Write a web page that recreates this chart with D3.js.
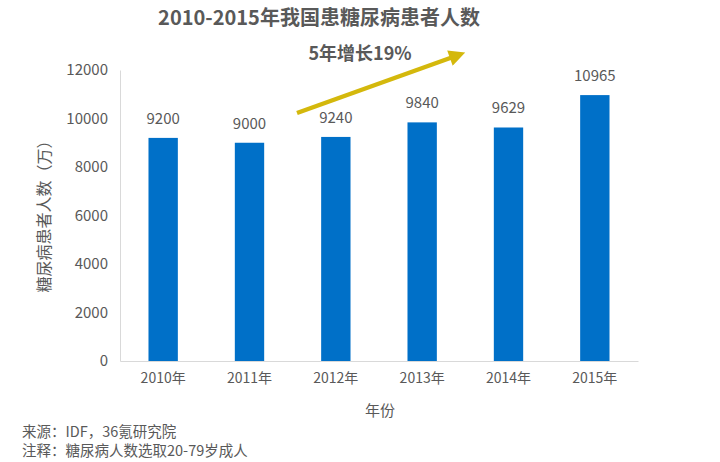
<!DOCTYPE html>
<html>
<head>
<meta charset="utf-8">
<script src="https://cdn.jsdelivr.net/npm/d3@7"></script>
<style>
  body { margin: 0; background: #fff; }
  text { font-family: "Noto Sans CJK SC", "Open Sans", sans-serif; }
</style>
</head>
<body>
<script>
var years = ["2010年", "2011年", "2012年", "2013年", "2014年", "2015年"];
var patients = [9200, 9000, 9240, 9840, 9629, 10965];
var yTicks = [0, 2000, 4000, 6000, 8000, 10000, 12000];

var width = 720, height = 462;
var margin = {top: 70, right: 82, bottom: 101, left: 120};

var svg = d3.select("body").append("svg")
    .attr("width", width)
    .attr("height", height);

// scales
var x = d3.scaleBand()
    .domain(years)
    .range([margin.left, width - margin.right])
    .paddingInner(0.66)
    .paddingOuter(0.33);

var y = d3.scaleLinear()
    .domain([0, 12000])
    .range([height - margin.bottom, margin.top]);

// bars
svg.selectAll(".bar")
    .data(patients)
    .enter().append("rect")
    .attr("class", "bar")
    .attr("x", function(d, i) { return x(years[i]); })
    .attr("width", x.bandwidth())
    .attr("y", function(d) { return y(d); })
    .attr("height", function(d) { return y(0) - y(d); })
    .attr("fill", "#0070c8");

// value labels
svg.selectAll(".val")
    .data(patients)
    .enter().append("text")
    .attr("x", function(d, i) { return x(years[i]) + x.bandwidth() / 2; })
    .attr("y", function(d) { return y(d) - 14; })
    .attr("text-anchor", "middle")
    .attr("font-size", 15)
    .attr("fill", "#595959")
    .text(function(d) { return d; });

// x axis
var xAxis = svg.append("g")
    .attr("transform", "translate(0," + y(0) + ")")
    .call(d3.axisBottom(x).tickSize(0).tickPadding(12));
xAxis.select(".domain").attr("stroke", "#d9d9d9");
xAxis.selectAll("text").attr("font-size", 14).attr("fill", "#595959")
    .attr("font-family", "'Noto Sans CJK SC', sans-serif");

// y axis
var yAxis = svg.append("g")
    .attr("transform", "translate(" + margin.left + ",0)")
    .call(d3.axisLeft(y).tickValues(yTicks).tickSize(0).tickPadding(12).tickFormat(d3.format("d")));
yAxis.select(".domain").attr("stroke", "#d9d9d9");
yAxis.selectAll("text").attr("font-size", 15).attr("fill", "#595959")
    .attr("font-family", "'Noto Sans CJK SC', sans-serif");

// titles
svg.append("text")
    .attr("x", 319).attr("y", 25)
    .attr("text-anchor", "middle")
    .attr("font-size", 20).attr("font-weight", "bold")
    .attr("fill", "#595959")
    .text("2010-2015年我国患糖尿病患者人数");

svg.append("text")
    .attr("x", 360).attr("y", 60)
    .attr("text-anchor", "middle")
    .attr("font-size", 18).attr("font-weight", "bold")
    .attr("fill", "#595959")
    .text("5年增长19%");

// growth arrow
svg.append("defs").append("marker")
    .attr("id", "head")
    .attr("viewBox", "0 0 10 10")
    .attr("refX", 2).attr("refY", 5)
    .attr("markerWidth", 4).attr("markerHeight", 3.6)
    .attr("orient", "auto")
    .append("path")
    .attr("d", "M0,0L10,5L0,10Z")
    .attr("fill", "#d4b80c");

svg.append("line")
    .attr("x1", 297).attr("y1", 113)
    .attr("x2", 453).attr("y2", 57)
    .attr("stroke", "#d4b80c")
    .attr("stroke-width", 4.5)
    .attr("marker-end", "url(#head)");

// axis titles
svg.append("text")
    .attr("transform", "translate(50," + (y(6000) - 3) + ") rotate(-90)")
    .attr("text-anchor", "middle")
    .attr("font-size", 16)
    .attr("fill", "#595959")
    .text("糖尿病患者人数（万）");

svg.append("text")
    .attr("x", 380).attr("y", 416)
    .attr("text-anchor", "middle")
    .attr("font-size", 15)
    .attr("fill", "#595959")
    .text("年份");

// notes
svg.append("text")
    .attr("x", 22).attr("y", 437)
    .attr("font-size", 14.5).attr("fill", "#595959")
    .text("来源：IDF，36氪研究院");

svg.append("text")
    .attr("x", 22).attr("y", 456)
    .attr("font-size", 14.5).attr("fill", "#595959")
    .text("注释：糖尿病人数选取20-79岁成人");
</script>
</body>
</html>
